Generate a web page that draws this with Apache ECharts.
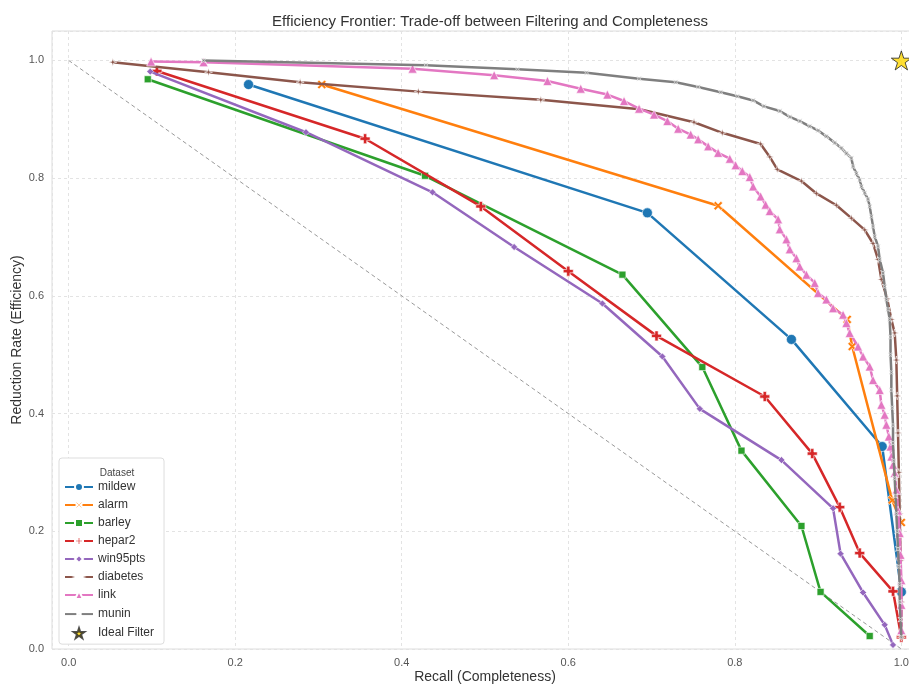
<!DOCTYPE html>
<html>
<head>
<meta charset="utf-8">
<script src="https://cdn.jsdelivr.net/npm/echarts@6/dist/echarts.min.js"></script>
<style>
  html, body { margin: 0; padding: 0; background: #fff; }
  #chart { width: 909px; height: 688px; }
</style>
</head>
<body>
<div id="chart"></div>
<script>
// recall (x), reduction rate (y)
var mildew = [[0.216, 0.959], [0.695, 0.741], [0.868, 0.526], [0.977, 0.344], [1.0, 0.097]];
var alarm = [[0.304, 0.959], [0.780, 0.753], [0.935, 0.560], [0.941, 0.514], [0.989, 0.253], [1.0, 0.215]];
var barley = [[0.095, 0.968], [0.428, 0.804], [0.665, 0.636], [0.761, 0.479], [0.808, 0.337], [0.880, 0.209], [0.903, 0.097], [0.962, 0.022]];
var hepar2 = [[0.106, 0.982], [0.356, 0.867], [0.495, 0.752], [0.600, 0.642], [0.706, 0.532], [0.836, 0.429], [0.893, 0.332], [0.926, 0.241], [0.950, 0.163], [0.990, 0.098], [1.0, 0.020]];
var win95pts = [[0.098, 0.981], [0.285, 0.878], [0.437, 0.776], [0.535, 0.683], [0.641, 0.587], [0.713, 0.497], [0.758, 0.408], [0.856, 0.321], [0.918, 0.239], [0.927, 0.162], [0.954, 0.096], [0.980, 0.041], [0.990, 0.007]];
var diabetes = [[0.053, 0.997], [0.168, 0.980], [0.278, 0.963], [0.420, 0.947], [0.567, 0.933], [0.686, 0.917], [0.751, 0.895], [0.785, 0.877], [0.831, 0.858], [0.842, 0.836], [0.851, 0.815], [0.880, 0.795], [0.898, 0.774], [0.922, 0.754], [0.940, 0.732], [0.956, 0.712], [0.966, 0.689], [0.972, 0.662], [0.976, 0.628], [0.983, 0.595], [0.988, 0.560], [0.992, 0.537], [0.994, 0.491], [0.995, 0.430], [0.996, 0.367], [0.997, 0.300], [0.998, 0.230], [0.999, 0.150], [1.0, 0.080], [1.0, 0.020]];
var link = [[0.099, 0.998], [0.162, 0.997], [0.413, 0.986], [0.511, 0.975], [0.575, 0.965], [0.615, 0.952], [0.647, 0.942], [0.667, 0.931], [0.685, 0.918], [0.703, 0.908], [0.719, 0.897], [0.732, 0.884], [0.747, 0.874], [0.756, 0.866], [0.768, 0.854], [0.780, 0.843], [0.794, 0.833], [0.801, 0.822], [0.809, 0.812], [0.818, 0.802], [0.822, 0.786], [0.831, 0.769], [0.837, 0.755], [0.842, 0.744], [0.852, 0.730], [0.854, 0.713], [0.862, 0.696], [0.866, 0.679], [0.874, 0.664], [0.878, 0.650], [0.886, 0.636], [0.896, 0.622], [0.900, 0.605], [0.910, 0.594], [0.918, 0.579], [0.930, 0.568], [0.934, 0.554], [0.938, 0.537], [0.948, 0.514], [0.954, 0.497], [0.962, 0.480], [0.966, 0.457], [0.974, 0.440], [0.976, 0.415], [0.980, 0.398], [0.982, 0.381], [0.985, 0.361], [0.987, 0.344], [0.988, 0.327], [0.990, 0.313], [0.992, 0.299], [0.994, 0.270], [0.996, 0.235], [0.998, 0.197], [0.999, 0.160], [1.0, 0.117], [1.0, 0.075], [1.0, 0.032]];
var munin = [[0.162, 1.0], [0.429, 0.992], [0.539, 0.985], [0.622, 0.979], [0.685, 0.969], [0.729, 0.963], [0.756, 0.955], [0.783, 0.946], [0.803, 0.939], [0.822, 0.932], [0.835, 0.922], [0.854, 0.914], [0.866, 0.904], [0.878, 0.897], [0.890, 0.888], [0.900, 0.881], [0.910, 0.871], [0.920, 0.860], [0.928, 0.851], [0.934, 0.842], [0.940, 0.834], [0.942, 0.820], [0.946, 0.808], [0.950, 0.797], [0.952, 0.786], [0.956, 0.775], [0.960, 0.764], [0.962, 0.752], [0.964, 0.735], [0.966, 0.718], [0.968, 0.701], [0.972, 0.684], [0.974, 0.662], [0.978, 0.639], [0.980, 0.616], [0.982, 0.594], [0.984, 0.577], [0.986, 0.560], [0.987, 0.530], [0.987, 0.500], [0.988, 0.470], [0.988, 0.440], [0.989, 0.410], [0.990, 0.380], [0.990, 0.350], [0.991, 0.320], [0.992, 0.290], [0.993, 0.260], [0.994, 0.230], [0.995, 0.200], [0.996, 0.170], [0.997, 0.140], [0.998, 0.110], [0.998, 0.080], [0.999, 0.050], [1.0, 0.020]];
var ideal = [[1.0, 1.0]];
var diagonal = [[0, 1], [1, 0]];

var names = ['mildew', 'alarm', 'barley', 'hepar2', 'win95pts', 'diabetes', 'link', 'munin'];
var colors = ['#1f77b4', '#ff7f0e', '#2ca02c', '#d62728', '#9467bd', '#8c564b', '#e377c2', '#7f7f7f'];

var symX = 'path://M-1,-0.6 L-0.6,-1 L0,-0.4 L0.6,-1 L1,-0.6 L0.4,0 L1,0.6 L0.6,1 L0,0.4 L-0.6,1 L-1,0.6 L-0.4,0 Z';
var symP = 'path://M-0.33,-1 L0.33,-1 L0.33,-0.33 L1,-0.33 L1,0.33 L0.33,0.33 L0.33,1 L-0.33,1 L-0.33,0.33 L-1,0.33 L-1,-0.33 L-0.33,-0.33 Z';
var symStar4 = 'path://M0,-1 L0.22,-0.22 L1,0 L0.22,0.22 L0,1 L-0.22,0.22 L-1,0 L-0.22,-0.22 Z';
var symStar5 = 'path://M0,-1 L0.2245,-0.309 L0.951,-0.309 L0.363,0.118 L0.588,0.809 L0,0.382 L-0.588,0.809 L-0.363,0.118 L-0.951,-0.309 L-0.2245,-0.309 Z';

var symbols = ['circle', symX, 'rect', symP, 'diamond', symStar4, 'triangle', symStar4];
var symbolSizes = [10, 9, 7, 10, 7, 8, 9, 7];
var symbolRotates = [0, 0, 0, 0, 0, 0, 0, 45];
var allData = [mildew, alarm, barley, hepar2, win95pts, diabetes, link, munin];

var font = "'Liberation Sans', Arial, sans-serif";

var tickFmt = function (v) {
    var k = v * 5;
    if (Math.abs(k - Math.round(k)) > 1e-6 || v < 0 || v > 1.0001) return '';
    return v.toFixed(1);
};

var series = [{
    name: 'Random',
    type: 'line',
    data: diagonal,
    symbol: 'none',
    silent: true,
    lineStyle: {color: '#999', width: 1, type: [4, 3]},
    z: 1
}];
names.forEach(function (n, i) {
    series.push({
        name: n,
        type: 'line',
        data: allData[i],
        symbol: symbols[i],
        symbolSize: symbolSizes[i],
        symbolRotate: symbolRotates[i],
        showAllSymbol: true,
        clip: false,
        color: colors[i],
        lineStyle: {width: 2.5, color: colors[i]},
        itemStyle: {color: colors[i], borderColor: '#fff', borderWidth: 0.6},
        emphasis: {disabled: true},
        z: 2 + i
    });
});
series.push({
    name: 'Ideal Filter',
    type: 'scatter',
    data: ideal,
    symbol: symStar5,
    symbolKeepAspect: true,
    symbolSize: 20,
    clip: false,
    itemStyle: {color: '#FFD700', borderColor: '#222', borderWidth: 1},
    z: 20
});

var chart = echarts.init(document.getElementById('chart'), null, {renderer: 'canvas'});
chart.setOption({
    backgroundColor: '#fff',
    animation: false,
    textStyle: {fontFamily: font},
    title: [{
        text: 'Efficiency Frontier: Trade-off between Filtering and Completeness',
        left: 485,
        top: 9,
        textAlign: 'center',
        textStyle: {fontSize: 15, fontWeight: 'normal', color: '#333', fontFamily: font}
    }, {
        text: 'Dataset',
        left: 112,
        top: 463,
        textAlign: 'center',
        textStyle: {fontSize: 10, fontWeight: 'normal', color: '#444', fontFamily: font}
    }],
    legend: {
        orient: 'vertical',
        left: 59,
        top: 458,
        padding: [23, 10, 5, 5],
        itemWidth: 28,
        itemHeight: 10,
        itemGap: 6,
        borderColor: '#ddd',
        borderWidth: 1,
        borderRadius: 3,
        backgroundColor: '#fff',
        data: names.concat([{name: 'Ideal Filter'}]),
        textStyle: {fontSize: 12, color: '#333', lineHeight: 12, fontFamily: font}
    },
    grid: {
        left: 52,
        top: 31,
        width: 866,
        height: 618,
        show: true,
        borderColor: '#dcdcdc',
        borderWidth: 1,
        containLabel: false,
        outerBoundsMode: 'none'
    },
    xAxis: {
        type: 'value',
        min: -0.02,
        max: 1.02,
        name: 'Recall (Completeness)',
        nameLocation: 'middle',
        nameGap: 21,
        nameMoveOverlap: false,
        nameTextStyle: {fontSize: 14, color: '#333', fontFamily: font},
        axisLine: {show: false},
        axisTick: {show: false},
        axisLabel: {fontSize: 11, color: '#555', margin: 8, formatter: tickFmt, showMinLabel: true, showMaxLabel: true},
        splitLine: {lineStyle: {color: '#e3e3e3', type: [3, 3], width: 1}}
    },
    yAxis: {
        type: 'value',
        min: 0,
        max: 1.05,
        name: 'Reduction Rate (Efficiency)',
        nameLocation: 'middle',
        nameGap: 28,
        nameMoveOverlap: false,
        nameTextStyle: {fontSize: 14, color: '#333', fontFamily: font},
        axisLine: {show: false},
        axisTick: {show: false},
        axisLabel: {fontSize: 11, color: '#555', margin: 8, formatter: tickFmt},
        splitLine: {lineStyle: {color: '#e3e3e3', type: [3, 3], width: 1}}
    },
    series: series
});
</script>
</body>
</html>
